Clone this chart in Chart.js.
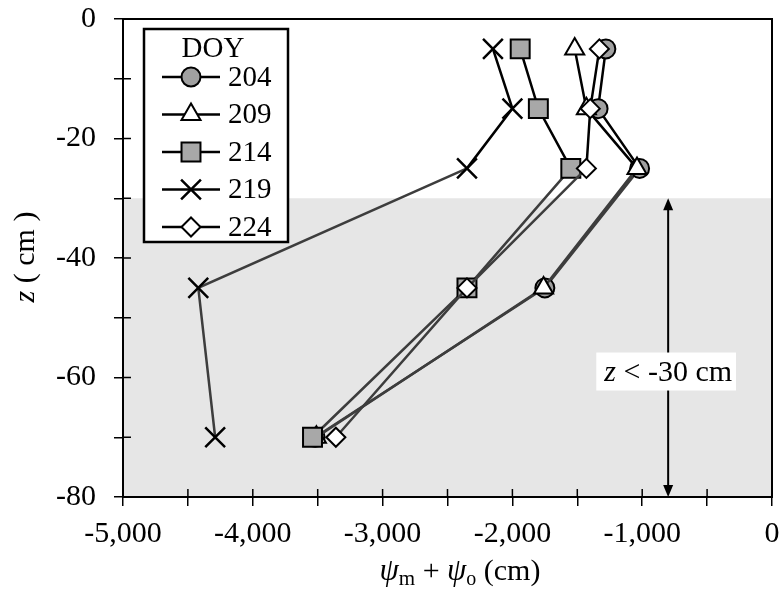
<!DOCTYPE html>
<html lang="en">
<head>
<meta charset="UTF-8">
<title>Water potential profiles by DOY</title>
<script src="https://cdn.jsdelivr.net/npm/chart.js"></script>
<style>
  html, body { margin: 0; padding: 0; background: #fff; }
  canvas { display: block; }
</style>
</head>
<body>
<canvas id="chart" width="780" height="590"></canvas>
<script>
// depth of each measurement (cm)
const depths = [-5, -15, -25, -45, -70];
const doyLabels = ['204', '209', '214', '219', '224'];

// psi_m + psi_o (cm)
const psi204 = [-1280, -1340, -1020, -1750, -3520];
const psi209 = [-1520, -1430, -1040, -1760, -3510];
const psi214 = [-1940, -1800, -1550, -2350, -3540];
const psi219 = [-2150, -2000, -2350, -4420, -4290];
const psi224 = [-1330, -1400, -1430, -2350, -3360];

const shadeTop = -30;      // z < -30 cm zone
const arrowX = -800;
const xMin = -5000, xMax = 0, xStep = 500;
const yMin = -80, yMax = 0, yStep = 10;

const serif = '"Liberation Serif", "Times New Roman", serif';

const toPts = vals => vals.map((v, i) => ({ x: v, y: depths[i] }));

const styles = [
  { pointStyle: 'circle',   radius: 9.5, fill: '#a0a0a0' },
  { pointStyle: 'triangle', radius: 11,  fill: '#ffffff' },
  { pointStyle: 'rect',     radius: 13.4, fill: '#a8a8a8' },
  { pointStyle: 'crossRot', radius: 14,  fill: '#000000' },
  { pointStyle: 'rectRot',  radius: 9.5, fill: '#ffffff' }
];
const series = [psi204, psi209, psi214, psi219, psi224];

const datasets = series.map((vals, i) => ({
  label: doyLabels[i],
  data: toPts(vals),
  showLine: true,
  borderColor: '#000',
  borderWidth: 2.5,
  pointStyle: styles[i].pointStyle,
  pointRadius: styles[i].radius,
  pointBackgroundColor: styles[i].fill,
  pointBorderColor: '#000',
  pointBorderWidth: i === 3 ? 2.5 : 2,
  order: 4 - i,
  segment: {
    borderColor: c => c.p1.parsed.y < shadeTop ? '#3d3d3d' : '#000'
  }
}));

// fallback marker drawing if helpers are not exposed
function marker(ctx, st, x, y) {
  if (Chart.helpers && Chart.helpers.drawPoint) {
    Chart.helpers.drawPoint(ctx, { pointStyle: st.pointStyle, radius: st.radius, rotation: 0, borderWidth: ctx.lineWidth }, x, y);
    return;
  }
  ctx.beginPath();
  ctx.arc(x, y, st.radius, 0, Math.PI * 2);
  ctx.fill(); ctx.stroke();
}

const decor = {
  id: 'decor',
  beforeDatasetsDraw(chart) {
    const { ctx, chartArea: a, scales: { y } } = chart;
    const yTop = y.getPixelForValue(shadeTop);
    ctx.save();
    ctx.fillStyle = '#e6e6e6';
    ctx.fillRect(a.left, yTop, a.right - a.left, a.bottom - yTop);
    ctx.restore();
  },
  afterDatasetsDraw(chart) {
    const { ctx, chartArea: a, scales: { x, y } } = chart;
    ctx.save();

    // arrow spanning the shaded zone
    const ax = x.getPixelForValue(arrowX);
    const y1 = y.getPixelForValue(shadeTop), y2 = y.getPixelForValue(yMin);
    ctx.strokeStyle = '#000'; ctx.fillStyle = '#000'; ctx.lineWidth = 2;
    ctx.beginPath(); ctx.moveTo(ax, y1 + 8); ctx.lineTo(ax, y2 - 8); ctx.stroke();
    ctx.beginPath(); ctx.moveTo(ax, y1); ctx.lineTo(ax - 5, y1 + 12); ctx.lineTo(ax + 5, y1 + 12); ctx.closePath(); ctx.fill();
    ctx.beginPath(); ctx.moveTo(ax, y2); ctx.lineTo(ax - 5, y2 - 12); ctx.lineTo(ax + 5, y2 - 12); ctx.closePath(); ctx.fill();

    // label on the arrow
    const ly = y.getPixelForValue(-59);
    ctx.font = 'italic 30px ' + serif;
    const wz = ctx.measureText('z').width;
    ctx.font = '30px ' + serif;
    const rest = ' < -30 cm';
    const wr = ctx.measureText(rest).width;
    const tw = wz + wr;
    ctx.fillStyle = '#fff';
    ctx.fillRect(ax - tw / 2 - 8, ly - 19, tw + 12, 38);
    ctx.fillStyle = '#000';
    ctx.textBaseline = 'middle'; ctx.textAlign = 'left';
    ctx.font = 'italic 30px ' + serif;
    ctx.fillText('z', ax - tw / 2, ly + 2);
    ctx.font = '30px ' + serif;
    ctx.fillText(rest, ax - tw / 2 + wz, ly + 2);

    // inner tick marks
    ctx.lineWidth = 1.5;
    ctx.beginPath();
    for (let v = xMin; v <= xMax; v += xStep) {
      const px = x.getPixelForValue(v);
      ctx.moveTo(px, a.bottom); ctx.lineTo(px, a.bottom - 8);
    }
    for (let v = yMin; v <= yMax; v += yStep) {
      const py = y.getPixelForValue(v);
      ctx.moveTo(a.left, py); ctx.lineTo(a.left + 8, py);
    }
    ctx.stroke();

    // frame
    ctx.lineWidth = 2;
    ctx.strokeRect(a.left, a.top, a.right - a.left, a.bottom - a.top);

    // legend box
    const lx = a.left + 21, lt = a.top + 10, lw = 144, lh = 213;
    ctx.fillStyle = '#fff';
    ctx.fillRect(lx, lt, lw, lh);
    ctx.lineWidth = 2.5;
    ctx.strokeRect(lx, lt, lw, lh);
    ctx.fillStyle = '#000';
    ctx.font = '29px ' + serif;
    ctx.textAlign = 'center'; ctx.textBaseline = 'middle';
    ctx.fillText('DOY', lx + 69, lt + 20);
    ctx.textAlign = 'left';
    doyLabels.forEach((lab, i) => {
      const ey = lt + 48 + i * 37.5;
      ctx.strokeStyle = '#000'; ctx.lineWidth = 2.5;
      ctx.beginPath(); ctx.moveTo(lx + 18, ey); ctx.lineTo(lx + 76, ey); ctx.stroke();
      ctx.fillStyle = styles[i].fill;
      ctx.lineWidth = i === 3 ? 2.5 : 2;
      marker(ctx, styles[i], lx + 47, ey);
      ctx.fillStyle = '#000';
      ctx.font = '29px ' + serif;
      ctx.fillText(lab, lx + 84, ey + 1);
    });
    ctx.restore();
  },
  afterDraw(chart) {
    const { ctx } = chart;
    ctx.save();
    ctx.fillStyle = '#000';
    ctx.textBaseline = 'alphabetic'; ctx.textAlign = 'left';

    // x title: psi_m + psi_o (cm)
    const parts = [
      { t: 'ψ', f: 'italic 31px ', dy: 0 },
      { t: 'm', f: '21px ', dy: 5 },
      { t: ' + ', f: '30px ', dy: 0 },
      { t: 'ψ', f: 'italic 31px ', dy: 0 },
      { t: 'o', f: '20px ', dy: 5 },
      { t: ' (cm)', f: '30px ', dy: 0 }
    ];
    let total = 0;
    parts.forEach(p => { ctx.font = p.f + serif; p.w = ctx.measureText(p.t).width; total += p.w; });
    let cx = 460 - total / 2;
    const base = 580;
    parts.forEach(p => { ctx.font = p.f + serif; ctx.fillText(p.t, cx, base + p.dy); cx += p.w; });

    // y title: z ( cm )
    ctx.translate(26, 257);
    ctx.rotate(-Math.PI / 2);
    ctx.textBaseline = 'middle';
    ctx.font = 'italic 30px ' + serif;
    const wz = ctx.measureText('z').width;
    ctx.font = '30px ' + serif;
    const wr = ctx.measureText(' ( cm )').width;
    const sx = -(wz + wr) / 2;
    ctx.font = 'italic 30px ' + serif;
    ctx.fillText('z', sx, 0);
    ctx.font = '30px ' + serif;
    ctx.fillText(' ( cm )', sx + wz, 0);
    ctx.restore();
  }
};

new Chart(document.getElementById('chart'), {
  type: 'scatter',
  data: { datasets },
  options: {
    responsive: false,
    animation: false,
    events: [],
    layout: { autoPadding: false, padding: { top: 19, right: 8, left: 0, bottom: 0 } },
    plugins: { legend: { display: false }, tooltip: { enabled: false } },
    scales: {
      x: {
        type: 'linear', min: xMin, max: xMax,
        afterFit(s) { s.height = 93; s.paddingLeft = 0; s.paddingRight = 0; },
        grid: { drawOnChartArea: false, drawTicks: true, tickLength: 9, color: '#000', lineWidth: 1.5 },
        border: { display: true, color: '#000', width: 2 },
        ticks: {
          stepSize: xStep, color: '#000', padding: 13, maxRotation: 0, autoSkip: false,
          font: { family: serif, size: 30, lineHeight: 1 },
          callback: v => v % 1000 === 0 ? v.toLocaleString('en-US') : ''
        }
      },
      y: {
        type: 'linear', min: yMin, max: yMax,
        afterFit(s) { s.width = 123; s.paddingTop = 0; s.paddingBottom = 0; },
        grid: { drawOnChartArea: false, drawTicks: true, tickLength: 9, color: '#000', lineWidth: 1.5 },
        border: { display: true, color: '#000', width: 2 },
        ticks: {
          stepSize: yStep, color: '#000', padding: 18, autoSkip: false,
          font: { family: serif, size: 30, lineHeight: 1 },
          callback: v => v % 20 === 0 ? String(v) : ''
        }
      }
    }
  },
  plugins: [decor]
});
</script>
</body>
</html>
